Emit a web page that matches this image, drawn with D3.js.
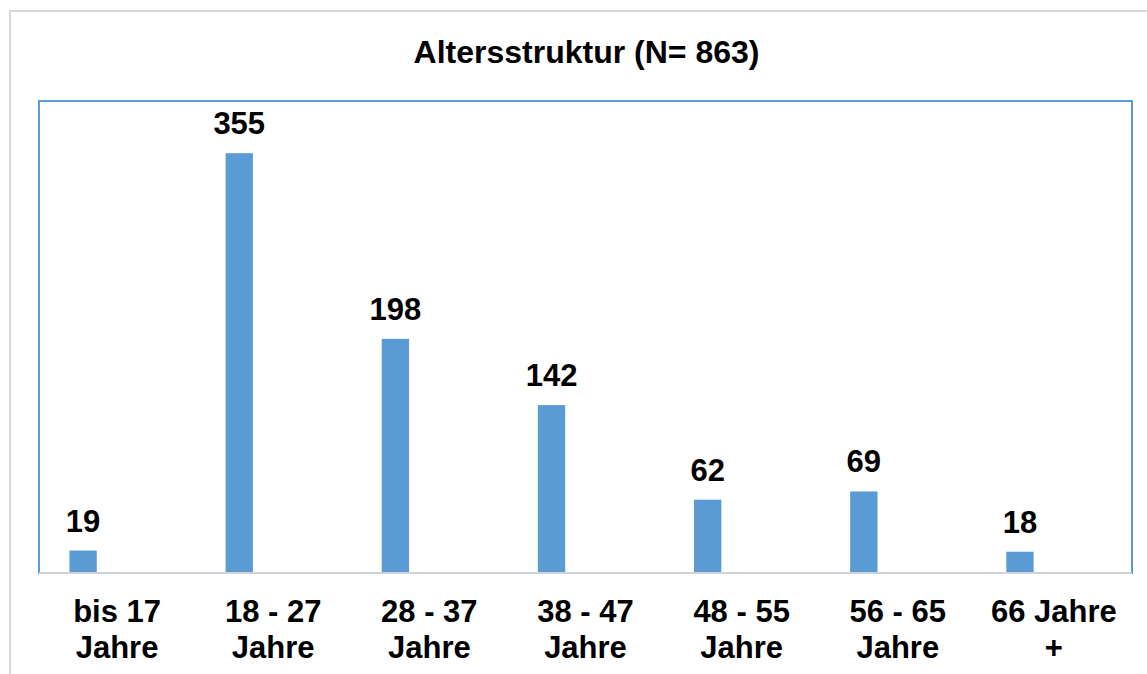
<!DOCTYPE html>
<html>
<head>
<meta charset="utf-8">
<script src="https://cdn.jsdelivr.net/npm/d3@7"></script>
<style>
  body { margin: 0; background: #fff; }
  text { font-family: "Liberation Sans", Arial, sans-serif; font-weight: bold; fill: #000; }
</style>
</head>
<body>
<div id="chart"></div>
<script>
// data
var categories = [["bis 17", "Jahre"], ["18 - 27", "Jahre"], ["28 - 37", "Jahre"], ["38 - 47", "Jahre"],
                  ["48 - 55", "Jahre"], ["56 - 65", "Jahre"], ["66 Jahre", "+"]];
var values = [19, 355, 198, 142, 62, 69, 18];
var title = "Altersstruktur (N= 863)";

var W = 1147, H = 674;
var plot = { left: 39, top: 100, right: 1132, bottom: 573 };

var svg = d3.select("#chart").append("svg")
    .attr("width", W)
    .attr("height", H);

// outer chart border
svg.append("rect")
    .attr("x", 10).attr("y", 11)
    .attr("width", W + 20).attr("height", H + 20)
    .attr("fill", "#fff")
    .attr("stroke", "#d9d9d9")
    .attr("stroke-width", 2);

var idx = d3.range(categories.length);
var x = d3.scaleBand()
    .domain(idx)
    .range([plot.left, plot.right])
    .padding(0);

var y = d3.scaleLinear()
    .domain([0, 400])
    .range([plot.bottom, plot.top]);

var bw = x.bandwidth();

// plot area border
svg.append("rect")
    .attr("x", plot.left).attr("y", y(400) + 1)
    .attr("width", plot.right - plot.left)
    .attr("height", plot.bottom - plot.top - 1)
    .attr("fill", "none")
    .attr("stroke", "#5b9bd5")
    .attr("stroke-width", 2);

// bars (sit left in each slot)
svg.selectAll("rect.bar")
    .data(values)
    .enter().append("rect")
    .attr("class", "bar")
    .attr("x", function(d, i) { return x(i) + bw * 0.195; })
    .attr("width", bw * 0.175)
    .attr("y", function(d) { return y(d); })
    .attr("height", function(d) { return y(0) - y(d); })
    .attr("fill", "#5b9bd5");

// x axis line
svg.append("line")
    .attr("x1", plot.left).attr("x2", plot.right)
    .attr("y1", y(0)).attr("y2", y(0))
    .attr("stroke", "#d0d4da")
    .attr("stroke-width", 2);

// value labels
svg.selectAll("text.val")
    .data(values)
    .enter().append("text")
    .attr("class", "val")
    .attr("x", function(d, i) { return x(i) + bw * 0.195 + bw * 0.0875; })
    .attr("y", function(d) { return y(d) - 19; })
    .attr("text-anchor", "middle")
    .style("font-size", "31px")
    .text(function(d) { return d; });

// category labels
var lab = svg.selectAll("text.cat")
    .data(categories)
    .enter().append("text")
    .attr("class", "cat")
    .attr("text-anchor", "middle")
    .style("font-size", "31px");
lab.selectAll("tspan")
    .data(function(d, i) { return d.map(function(t) { return { t: t, i: i }; }); })
    .enter().append("tspan")
    .attr("x", function(d) { return x(d.i) + bw / 2; })
    .attr("y", function(d, j) { return 622 + j * 36; })
    .text(function(d) { return d.t; });

// title
svg.append("text")
    .attr("x", (plot.left + plot.right) / 2 + 1)
    .attr("y", 63)
    .attr("text-anchor", "middle")
    .style("font-size", "32px")
    .text(title);
</script>
</body>
</html>
